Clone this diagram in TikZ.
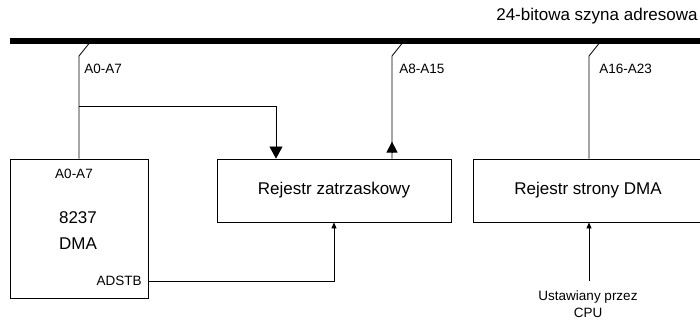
\documentclass[tikz,border=0pt]{standalone}
\usepackage{fontspec}
\setmainfont{Liberation Sans}
\usetikzlibrary{arrows.meta}

\begin{document}
\begin{tikzpicture}[x=1pt,y=-1pt,line width=0.8pt,
        box/.style={draw,inner sep=0pt,font=\fontsize{17}{20}\selectfont},
        lbl/.style={inner sep=0pt,font=\fontsize{13.5}{17}\selectfont},
        bigtip/.style={-{Triangle[width=13pt,length=12pt]}},
        uptip/.style={-{Triangle[width=11pt,length=11pt]}},
        smalltip/.style={-{Triangle[width=5pt,length=6pt]}}]
        \useasboundingbox (0,0) rectangle (700,320);
        \coordinate (busL) at (10,41);
        \coordinate (busR) at (700,41);
        \draw[line width=6pt] (busL) -- (busR);
        \node[inner sep=0pt,anchor=east,font=\fontsize{17}{20}\selectfont] (title) at (698,16) {24-bitowa szyna adresowa};
        \node[box,minimum width=138pt,minimum height=139pt] (dma) at (79,228.5) {};
        \node[box,minimum width=234pt,minimum height=63pt] (zatrz) at (334,190.5) {Rejestr zatrzaskowy};
        \node[box,minimum width=230pt,minimum height=63pt] (strona) at (588,190.5) {Rejestr strony DMA};
        \node[lbl] (dmaaddr) at (74,174) {A0-A7};
        \node[inner sep=0pt,align=center,font=\fontsize{17}{26}\selectfont] (dmaname) at (78,231) {8237\\DMA};
        \node[lbl,anchor=east] (adstb) at (142,281) {ADSTB};
        \node[lbl,anchor=west] (lowlbl) at (84,69) {A0-A7};
        \node[lbl,anchor=west] (midlbl) at (399,69) {A8-A15};
        \node[lbl,anchor=west] (highlbl) at (599,69) {A16-A23};
        \node[lbl,align=center] (cpu) at (588,304) {Ustawiany przez\\CPU};
        \coordinate (lowtap) at (91,41);
        \coordinate (midtap) at (404,41);
        \coordinate (hightap) at (601,41);
        \coordinate (split) at (79,106);
        \coordinate (midbase) at ([xshift=58pt,yshift=6pt]zatrz.north);
        \draw (lowtap) -- ++(-12,15) -- (dma.north);
        \draw[bigtip] (split) -| ([xshift=-58pt]zatrz.north);
        \draw (midtap) -- ++(-12,15) -- ([xshift=58pt]zatrz.north);
        \draw[uptip] (midbase) -- ++(0,-11);
        \draw (hightap) -- ++(-12,15) -- ([xshift=1pt]strona.north);
        \draw[smalltip] (dma.east |- adstb) -| (zatrz.south);
        \draw[smalltip] ([xshift=1pt,yshift=9pt]cpu.north) -- ([xshift=1pt]strona.south);
    \end{tikzpicture}
\end{document}
